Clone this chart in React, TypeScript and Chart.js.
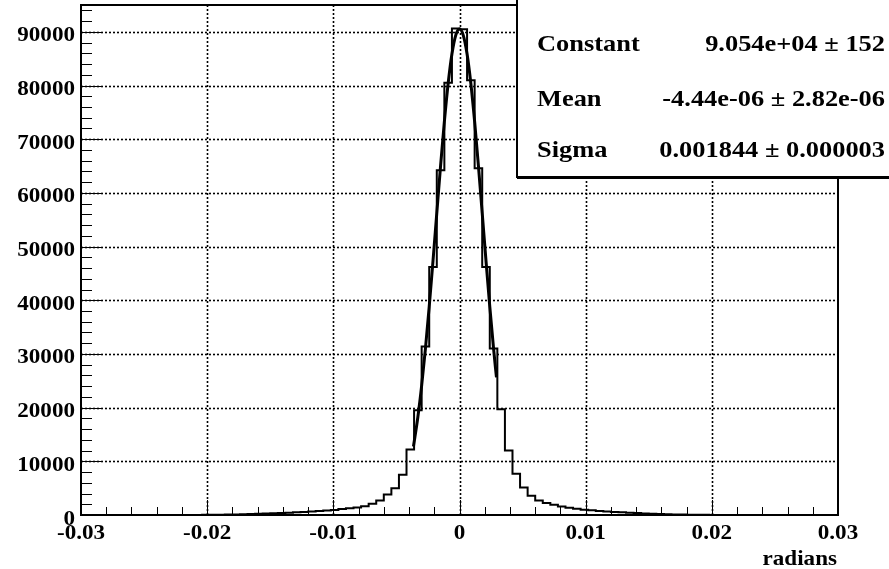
import React, { useEffect, useRef } from "react";
import { Chart, registerables } from "chart.js";

Chart.register(...registerables);

// ---- data ----
const X_MIN = -0.03;
const X_MAX = 0.03;
const Y_MAX = 95000;
const BIN_WIDTH = 0.0006;

// 100 bins from -0.03 to 0.03
const counts = [
  0, 0, 0, 0, 0, 0, 0, 0, 1, 2,
  3, 5, 7, 10, 14, 20, 30, 40, 55, 75,
  100, 130, 170, 220, 270, 320, 380, 440, 500, 570,
  650, 750, 850, 950, 1100, 1250, 1400, 1650, 2100, 2700,
  3800, 5000, 7500, 12200, 19500, 31400, 46200, 64200, 80500, 90600,
  90500, 81000, 64600, 46200, 31000, 19700, 12000, 7700, 5100, 3600,
  2700, 2250, 1900, 1600, 1350, 1150, 1000, 870, 760, 660,
  570, 490, 420, 360, 300, 250, 200, 150, 110, 80,
  60, 45, 32, 22, 15, 10, 7, 5, 3, 2,
  1, 0, 0, 0, 0, 0, 0, 0, 0, 0,
];

const fitX = [
  -0.00365, -0.0033, -0.003, -0.0027, -0.0024, -0.0021, -0.0018, -0.0015,
  -0.0012, -0.0009, -0.0006, -0.0003, 0, 0.0003, 0.0006, 0.0009, 0.0012,
  0.0015, 0.0018, 0.0021, 0.0024, 0.0027, 0.00293,
];
const fitY = [
  12770, 18250, 24100, 30990, 38810, 47330, 56230, 65040, 73270, 80370,
  85870, 89350, 90540, 89350, 85870, 80370, 73270, 65040, 56230, 47330,
  38810, 30990, 25620,
];

const xTickValues = [-0.03, -0.02, -0.01, 0, 0.01, 0.02, 0.03];
const xTickLabels = ["-0.03", "-0.02", "-0.01", "0", "0.01", "0.02", "0.03"];
const yTickValues = [0, 10000, 20000, 30000, 40000, 50000, 60000, 70000, 80000, 90000];
const yTickLabels = ["0", "10000", "20000", "30000", "40000", "50000", "60000", "70000", "80000", "90000"];
const X_MINOR_STEP = 0.002;
const Y_MINOR_STEP = 2000;

const xTitle = "radians";
const statNames = ["Constant", "Mean", "Sigma"];
const statValues = ["9.054e+04 \u00b1 152", "-4.44e-06 \u00b1 2.82e-06", "0.001844 \u00b1 0.000003"];

// ---- styling ----
const FONT_FAMILY = '"Liberation Serif", "Times New Roman", serif';
const H_SCALE = 1.1;

function drawText(ctx: CanvasRenderingContext2D, text: string, x: number, y: number, align: CanvasTextAlign) {
  ctx.save();
  ctx.translate(x, y);
  ctx.scale(H_SCALE, 1);
  ctx.textAlign = align;
  ctx.textBaseline = "alphabetic";
  ctx.fillText(text, 0, 0);
  ctx.restore();
}

const rootPlugin = {
  id: "rootStyle",
  beforeDatasetsDraw(chart: any) {
    const { ctx, chartArea: a, scales } = chart;
    const xs = scales.x;
    const ys = scales.y;
    ctx.save();
    ctx.strokeStyle = "#000";
    ctx.lineWidth = 1.6;
    ctx.setLineDash([2, 2]);
    xTickValues.forEach((v) => {
      const px = Math.round(xs.getPixelForValue(v)) + 0.5;
      if (px <= a.left + 1 || px >= a.right - 1) return;
      ctx.beginPath();
      ctx.moveTo(px, a.bottom);
      ctx.lineTo(px, a.top);
      ctx.stroke();
    });
    yTickValues.forEach((v) => {
      const py = Math.round(ys.getPixelForValue(v)) + 0.5;
      if (py >= a.bottom - 1 || py <= a.top + 1) return;
      ctx.beginPath();
      ctx.moveTo(a.left, py);
      ctx.lineTo(a.right, py);
      ctx.stroke();
    });
    ctx.restore();
  },
  afterDatasetsDraw(chart: any) {
    const { ctx, chartArea: a, scales } = chart;
    const xs = scales.x;
    const ys = scales.y;
    ctx.save();
    ctx.setLineDash([]);
    ctx.strokeStyle = "#000";
    ctx.fillStyle = "#000";

    // ticks on x axis
    ctx.lineWidth = 1;
    const nX = Math.round((X_MAX - X_MIN) / X_MINOR_STEP);
    for (let i = 0; i <= nX; i++) {
      const v = X_MIN + i * X_MINOR_STEP;
      const major = i % 5 === 0;
      const px = Math.round(xs.getPixelForValue(v)) + 0.5;
      ctx.beginPath();
      ctx.moveTo(px, a.bottom);
      ctx.lineTo(px, a.bottom - (major ? 15 : 8));
      ctx.stroke();
    }
    // ticks on y axis
    const nY = Math.floor(Y_MAX / Y_MINOR_STEP);
    for (let i = 0; i <= nY; i++) {
      const v = i * Y_MINOR_STEP;
      const major = i % 5 === 0;
      const py = Math.round(ys.getPixelForValue(v)) + 0.5;
      ctx.beginPath();
      ctx.moveTo(a.left, py);
      ctx.lineTo(a.left + (major ? 22 : 11), py);
      ctx.stroke();
    }

    // frame
    ctx.lineWidth = 2;
    ctx.strokeRect(a.left, a.top, a.right - a.left, a.bottom - a.top);

    // tick labels
    ctx.font = `bold 21px ${FONT_FAMILY}`;
    xTickValues.forEach((v, i) => {
      drawText(ctx, xTickLabels[i], xs.getPixelForValue(v), a.bottom + 24, "center");
    });
    yTickValues.forEach((v, i) => {
      drawText(ctx, yTickLabels[i], a.left - 6, ys.getPixelForValue(v) + 9.5, "right");
    });
    // axis title
    drawText(ctx, xTitle, a.right - 1, a.bottom + 50, "right");

    // stats box
    const bx = 517;
    const by = -4;
    const bw = 400;
    const bh = 181;
    ctx.fillStyle = "#fff";
    ctx.fillRect(bx, by, bw, bh);
    ctx.lineWidth = 2;
    ctx.strokeStyle = "#000";
    ctx.strokeRect(bx, by, bw, bh);
    ctx.beginPath();
    ctx.moveTo(bx, by + bh + 1);
    ctx.lineTo(bx + bw, by + bh + 1);
    ctx.stroke();
    ctx.fillStyle = "#000";
    ctx.font = `bold 24px ${FONT_FAMILY}`;
    const rows = [51, 106, 157];
    statNames.forEach((n, i) => {
      drawText(ctx, n, 537, rows[i], "left");
      drawText(ctx, statValues[i], 885, rows[i], "right");
    });
    ctx.restore();
  },
};

export default function App() {
  const canvasRef = useRef<HTMLCanvasElement | null>(null);

  useEffect(() => {
    const canvas = canvasRef.current;
    if (!canvas) return;

    const histPoints: { x: number; y: number }[] = [];
    counts.forEach((c, i) => {
      const lo = X_MIN + i * BIN_WIDTH;
      const hi = lo + BIN_WIDTH;
      histPoints.push({ x: lo, y: c });
      histPoints.push({ x: hi, y: c });
    });
    const fitPoints = fitX.map((x, i) => ({ x, y: fitY[i] }));

    const chart = new Chart(canvas, {
      type: "line",
      data: {
        datasets: [
          {
            label: "fit",
            data: fitPoints,
            borderColor: "#000",
            borderWidth: 3,
            pointRadius: 0,
            fill: false,
            cubicInterpolationMode: "monotone",
          },
          {
            label: "histogram",
            data: histPoints,
            borderColor: "#000",
            borderWidth: 2,
            pointRadius: 0,
            fill: false,
            tension: 0,
            borderJoinStyle: "miter",
          },
        ],
      },
      options: {
        animation: false,
        responsive: false,
        maintainAspectRatio: false,
        layout: { padding: { left: 81, right: 51, top: 5, bottom: 54 } },
        scales: {
          x: { type: "linear", min: X_MIN, max: X_MAX, display: false },
          y: { type: "linear", min: 0, max: Y_MAX, display: false },
        },
        plugins: { legend: { display: false }, tooltip: { enabled: false } },
        events: [],
      },
      plugins: [rootPlugin],
    });
    return () => chart.destroy();
  }, []);

  return (
    <div style={{ position: "absolute", left: 0, top: 0, width: 889, height: 569, background: "#fff" }}>
      <canvas ref={canvasRef} width={889} height={569} style={{ display: "block" }} />
    </div>
  );
}
